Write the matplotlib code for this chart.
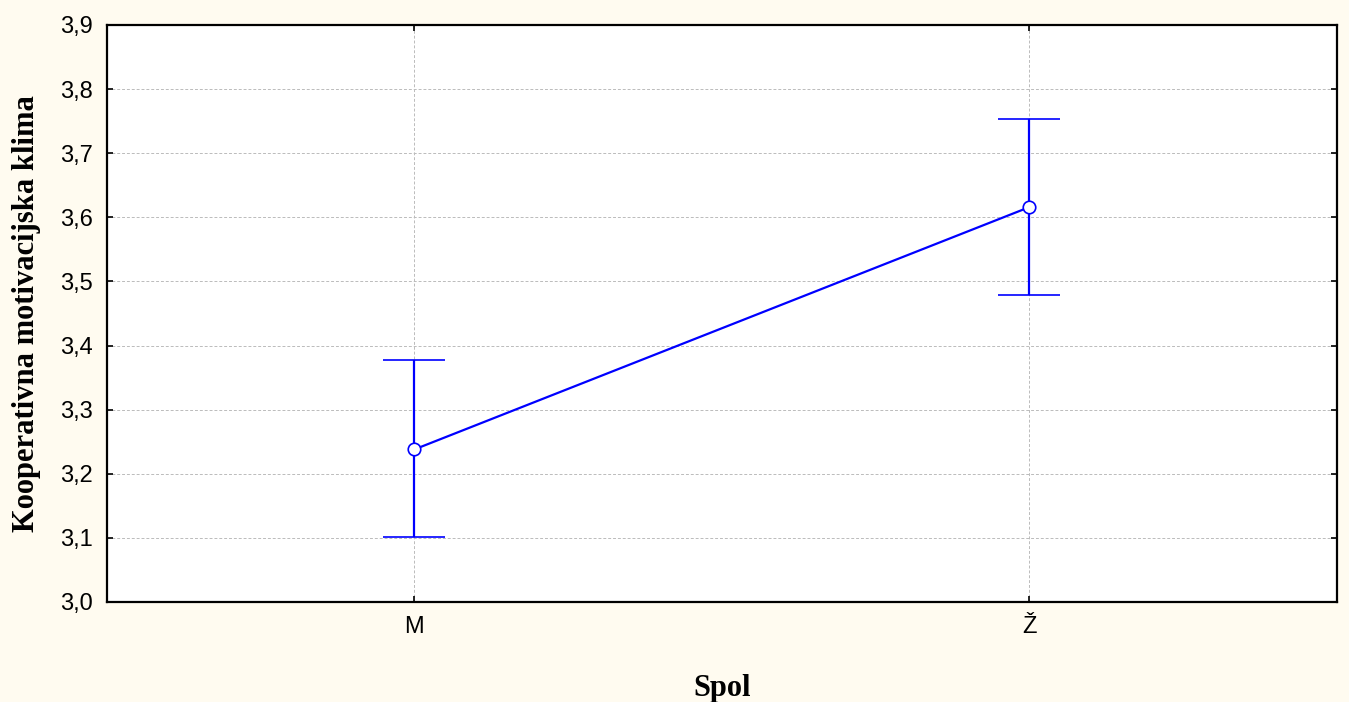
import matplotlib
matplotlib.use("Agg")
import matplotlib.pyplot as plt

# data
categories = ["M", "Ž"]
means = [3.238, 3.616]
lower = [3.101, 3.479]
upper = [3.377, 3.754]
yticks = [3.0, 3.1, 3.2, 3.3, 3.4, 3.5, 3.6, 3.7, 3.8, 3.9]

bg = "#FFFBF0"
blue = "#0000FF"

fig = plt.figure(figsize=(13.49, 7.02), dpi=100, facecolor=bg)
ax = fig.add_axes([0.0793, 0.1425, 0.9118, 0.8219])
ax.set_facecolor("white")

x = list(range(len(categories)))
err_lo = [m - l for m, l in zip(means, lower)]
err_hi = [u - m for m, u in zip(means, upper)]

ax.errorbar(x, means, yerr=[err_lo, err_hi], color=blue, lw=1.6,
            elinewidth=1.6, capsize=22, capthick=1.6,
            marker="o", markersize=9, markerfacecolor="white",
            markeredgecolor=blue, markeredgewidth=1.2, zorder=3)

ax.set_xlim(-0.5, 1.5)
ax.set_ylim(3.0, 3.9)
ax.set_xticks(x)
ax.set_xticklabels(categories)
ax.set_yticks(yticks)
ax.set_yticklabels([f"{v:.1f}".replace(".", ",") for v in yticks])

ax.grid(True, color="#BBBBBB", ls=(0, (3, 2)), lw=0.7)
ax.set_axisbelow(True)

for s in ax.spines.values():
    s.set_linewidth(1.6)
    s.set_color("black")

ax.tick_params(direction="in", length=4, width=1.2, top=True, right=True,
               labelsize=17, pad=10)
for lab in ax.get_xticklabels() + ax.get_yticklabels():
    lab.set_family(["Liberation Sans", "DejaVu Sans"])

ax.set_xlabel("Spol", family="Liberation Serif", fontweight="bold",
              fontsize=22, labelpad=26)
ax.set_ylabel("Kooperativna motivacijska klima", family="Liberation Serif",
              fontweight="bold", fontsize=22, labelpad=14)

fig.savefig("out.png", dpi=100, facecolor=bg)
